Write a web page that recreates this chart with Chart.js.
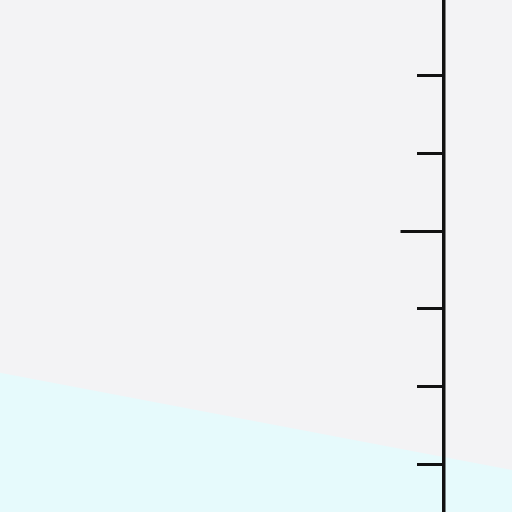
<!DOCTYPE html>
<html>
<head>
<meta charset="utf-8">
<script src="https://cdn.jsdelivr.net/npm/chart.js@4"></script>
<style>
  html, body { margin: 0; padding: 0; background: #f3f3f5; }
  canvas { display: block; }
</style>
</head>
<body>
<canvas id="chart" width="512" height="512"></canvas>
<script>
// x range of the visible crop, and where the vertical axis sits on it
const xRange = [0, 10];
const axisAt = 8.66;

// y range of the crop, tick values and the one major tick
const yRange = [1.39, 7.97];
const yTicks = [2, 3, 4, 5, 6, 7];
const majorTick = 5;

// area series (top edge of the cyan fill)
const areaX = [0, 10];
const areaY = [3.18, 1.93];

const ink = '#111111';

const ctx = document.getElementById('chart');
new Chart(ctx, {
  type: 'line',
  data: {
    datasets: [{
      data: areaX.map((x, i) => ({ x: x, y: areaY[i] })),
      fill: 'start',
      backgroundColor: '#e6fafc',
      borderWidth: 0,
      pointRadius: 0
    }]
  },
  options: {
    responsive: false,
    animation: false,
    layout: { padding: 0 },
    plugins: { legend: { display: false }, tooltip: { enabled: false } },
    scales: {
      x: {
        type: 'linear',
        min: xRange[0],
        max: xRange[1],
        display: false
      },
      y: {
        type: 'linear',
        min: yRange[0],
        max: yRange[1],
        z: 1,
        position: { x: axisAt },
        afterBuildTicks: ax => { ax.ticks = yTicks.map(v => ({ value: v })); },
        ticks: { display: false },
        border: { display: true, color: ink, width: 3.5, z: 1 },
        grid: {
          z: 1,
          drawOnChartArea: false,
          drawTicks: true,
          tickLength: 25,
          tickWidth: 3,
          tickColor: ink
        }
      },
      yMajor: {
        type: 'linear',
        axis: 'y',
        min: yRange[0],
        max: yRange[1],
        z: 1,
        position: { x: axisAt },
        afterBuildTicks: ax => { ax.ticks = [{ value: majorTick }]; },
        ticks: { display: false },
        border: { display: false },
        grid: {
          z: 1,
          drawOnChartArea: false,
          drawTicks: true,
          tickLength: 42.5,
          tickWidth: 3,
          tickColor: ink
        }
      }
    }
  }
});
</script>
</body>
</html>
